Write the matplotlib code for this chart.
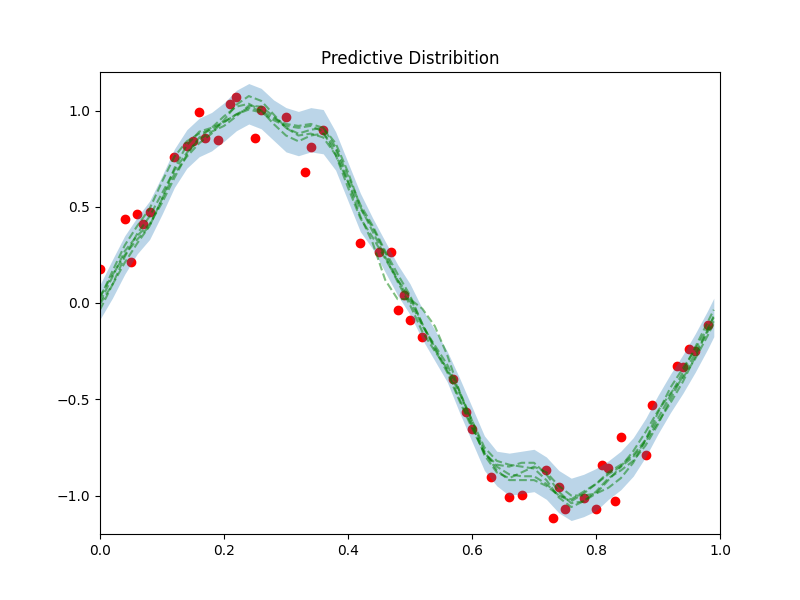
import matplotlib
matplotlib.use("Agg")
import matplotlib.pyplot as plt
import numpy as np

# observed data points
obs_x = [0.00, 0.04, 0.05, 0.06, 0.07, 0.08, 0.12, 0.14, 0.15, 0.16, 0.17, 0.19,
         0.21, 0.22, 0.25, 0.26, 0.30, 0.33, 0.34, 0.36, 0.42, 0.45, 0.47, 0.48,
         0.49, 0.50, 0.52, 0.57, 0.59, 0.60, 0.63, 0.66, 0.68, 0.72, 0.73, 0.74,
         0.75, 0.78, 0.80, 0.81, 0.82, 0.83, 0.84, 0.88, 0.89, 0.93, 0.94, 0.95,
         0.96, 0.98]
obs_y = [0.177, 0.436, 0.213, 0.462, 0.41, 0.473, 0.758, 0.816, 0.842, 0.992, 0.857, 0.847,
         1.034, 1.07, 0.857, 1.003, 0.966, 0.68, 0.81, 0.899, 0.312, 0.265, 0.265, -0.036,
         0.042, -0.088, -0.177, -0.395, -0.566, -0.655, -0.904, -1.008, -0.997, -0.868, -1.117, -0.956,
         -1.07, -1.013, -1.07, -0.842, -0.857, -1.029, -0.696, -0.79, -0.53, -0.327, -0.332, -0.239,
         -0.249, -0.114]

# prediction grid
grid_x = [0.00, 0.02, 0.04, 0.06, 0.08, 0.10, 0.12, 0.14, 0.16, 0.18,
          0.20, 0.22, 0.24, 0.26, 0.28, 0.30, 0.32, 0.34, 0.36, 0.38,
          0.40, 0.42, 0.44, 0.46, 0.48, 0.50, 0.52, 0.54, 0.56, 0.58,
          0.60, 0.62, 0.64, 0.66, 0.68, 0.70, 0.72, 0.74, 0.76, 0.78,
          0.80, 0.82, 0.84, 0.86, 0.88, 0.90, 0.92, 0.94, 0.96, 0.98, 0.99]

pred_mean = [0.005, 0.125, 0.25, 0.35, 0.43, 0.56, 0.70, 0.80, 0.86, 0.89,
             0.94, 1.00, 1.035, 1.01, 0.95, 0.90, 0.88, 0.90, 0.89, 0.79,
             0.63, 0.47, 0.36, 0.24, 0.12, 0.02, -0.11, -0.22, -0.33, -0.48,
             -0.63, -0.78, -0.86, -0.89, -0.88, -0.87, -0.91, -0.98, -1.02, -1.00,
             -0.97, -0.92, -0.87, -0.80, -0.70, -0.58, -0.47, -0.37, -0.26, -0.14, -0.075]

band_half = [0.09, 0.10, 0.10, 0.095, 0.10, 0.10, 0.10, 0.10, 0.10, 0.10,
             0.10, 0.105, 0.105, 0.105, 0.105, 0.115, 0.115, 0.115, 0.115, 0.10,
             0.10, 0.10, 0.08, 0.08, 0.08, 0.08, 0.08, 0.08, 0.08, 0.09,
             0.09, 0.09, 0.09, 0.11, 0.11, 0.11, 0.11, 0.11, 0.11, 0.11,
             0.11, 0.10, 0.10, 0.10, 0.10, 0.10, 0.10, 0.10, 0.10, 0.10, 0.10]

sample_1 = [0.025, 0.165, 0.30, 0.40, 0.49, 0.63, 0.76, 0.84, 0.88, 0.90,
            0.94, 0.98, 1.005, 0.99, 0.95, 0.92, 0.91, 0.92, 0.89, 0.77,
            0.60, 0.44, 0.34, 0.23, 0.12, 0.03, -0.11, -0.23, -0.35, -0.50,
            -0.64, -0.78, -0.84, -0.85, -0.83, -0.83, -0.89, -0.98, -1.04, -1.03,
            -0.99, -0.92, -0.85, -0.77, -0.67, -0.56, -0.47, -0.39, -0.29, -0.17, -0.105]
sample_2 = [-0.005, 0.095, 0.21, 0.31, 0.40, 0.54, 0.67, 0.76, 0.83, 0.88,
            0.95, 1.03, 1.075, 1.05, 0.98, 0.91, 0.87, 0.88, 0.86, 0.77,
            0.63, 0.49, 0.39, 0.26, 0.12, 0.01, -0.12, -0.22, -0.32, -0.46,
            -0.61, -0.77, -0.87, -0.92, -0.92, -0.92, -0.95, -1.00, -1.02, -0.98,
            -0.94, -0.89, -0.85, -0.80, -0.72, -0.62, -0.52, -0.41, -0.28, -0.14, -0.065]
sample_3 = [0.005, 0.135, 0.27, 0.35, 0.41, 0.52, 0.65, 0.77, 0.86, 0.91,
            0.97, 1.02, 1.035, 1.00, 0.93, 0.87, 0.84, 0.87, 0.88, 0.80,
            0.63, 0.45, 0.31, 0.12, 0.02, 0.02, -0.03, -0.12, -0.27, -0.46,
            -0.63, -0.79, -0.88, -0.91, -0.88, -0.85, -0.88, -0.95, -1.00, -1.00,
            -0.99, -0.96, -0.91, -0.83, -0.71, -0.57, -0.44, -0.34, -0.24, -0.13, -0.075]
sample_4 = [0.035, 0.145, 0.25, 0.33, 0.40, 0.54, 0.70, 0.82, 0.89, 0.91,
            0.94, 0.98, 1.015, 1.00, 0.96, 0.93, 0.92, 0.93, 0.91, 0.81,
            0.66, 0.51, 0.40, 0.27, 0.15, 0.04, -0.11, -0.24, -0.36, -0.51,
            -0.65, -0.78, -0.85, -0.89, -0.90, -0.90, -0.94, -1.00, -1.03, -0.99,
            -0.94, -0.88, -0.84, -0.79, -0.71, -0.60, -0.48, -0.36, -0.23, -0.10, -0.035]
sample_5 = [-0.035, 0.095, 0.24, 0.36, 0.45, 0.57, 0.69, 0.78, 0.85, 0.89,
            0.92, 0.97, 1.025, 1.02, 0.97, 0.91, 0.88, 0.90, 0.91, 0.83,
            0.68, 0.50, 0.37, 0.24, 0.11, -0.01, -0.15, -0.25, -0.34, -0.47,
            -0.61, -0.75, -0.82, -0.84, -0.85, -0.86, -0.92, -1.01, -1.06, -1.03,
            -0.98, -0.91, -0.87, -0.82, -0.74, -0.63, -0.50, -0.38, -0.26, -0.15, -0.095]

samples = [sample_1, sample_2, sample_3, sample_4, sample_5]

fig, ax = plt.subplots(figsize=(8, 6), dpi=100)
ax.scatter(obs_x, obs_y, color="red", zorder=1)
gx = np.array(grid_x)
m = np.array(pred_mean)
h = np.array(band_half)
ax.fill_between(gx, m - h, m + h, color="C0", alpha=0.3, linewidth=0, zorder=1.5)
for s in samples:
    ax.plot(gx, s, "g--", alpha=0.5, zorder=2)
ax.set_xlim(0, 1)
ax.set_ylim(-1.2, 1.2)
ax.set_title("Predictive Distribition")
fig.savefig("out.png", dpi=100)
